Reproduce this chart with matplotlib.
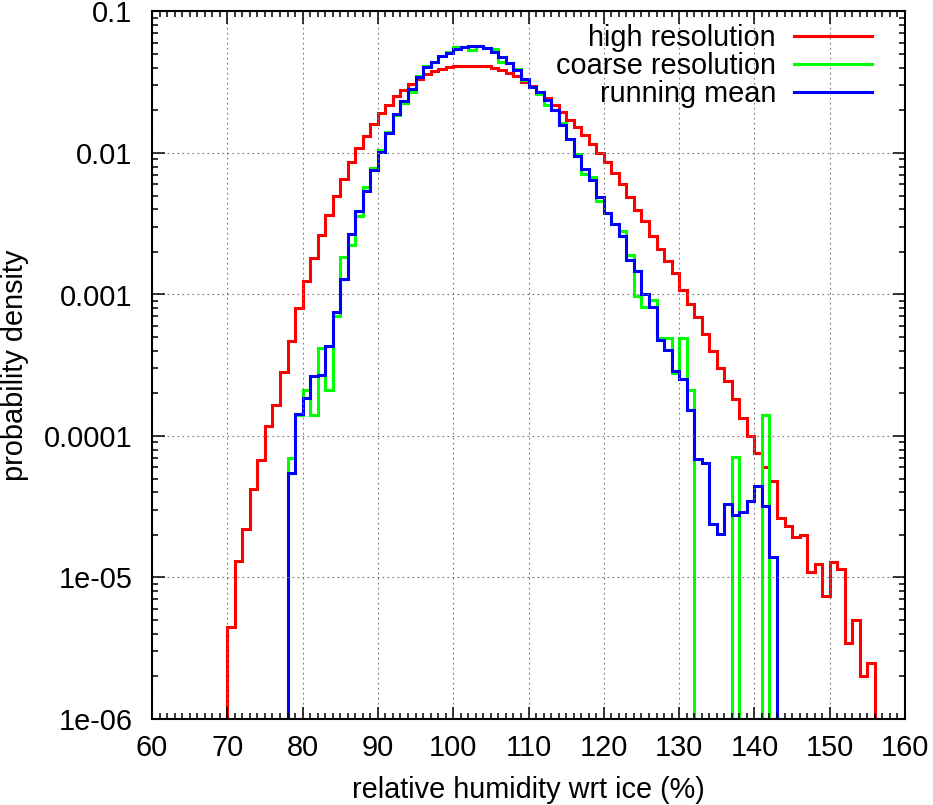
import numpy as np
import matplotlib
matplotlib.use('Agg')
import matplotlib.pyplot as plt
from matplotlib.ticker import MultipleLocator, LogLocator, NullFormatter

# probability density per 1 % bin, first bin lower edge given by *_start
hi_start = 70
high_res = [4.5e-6, 1.3e-5, 2.2e-5, 4.2e-5, 6.8e-5, 1.17e-4, 1.66e-4, 2.82e-4, 4.67e-4, 8.0e-4,
            1.24e-3, 1.82e-3, 2.64e-3, 3.66e-3, 4.93e-3, 6.55e-3, 8.57e-3, 1.09e-2, 1.32e-2, 1.61e-2,
            1.91e-2, 2.20e-2, 2.51e-2, 2.79e-2, 3.07e-2, 3.35e-2, 3.60e-2, 3.81e-2, 3.95e-2, 4.03e-2,
            4.09e-2, 4.13e-2, 4.14e-2, 4.13e-2, 4.09e-2, 3.99e-2, 3.86e-2, 3.68e-2, 3.49e-2, 3.19e-2,
            2.97e-2, 2.70e-2, 2.44e-2, 2.19e-2, 1.94e-2, 1.72e-2, 1.52e-2, 1.33e-2, 1.15e-2, 1.00e-2,
            8.6e-3, 7.2e-3, 6.0e-3, 4.9e-3, 3.95e-3, 3.3e-3, 2.61e-3, 2.08e-3, 1.72e-3, 1.42e-3,
            1.07e-3, 8.5e-4, 6.9e-4, 5.3e-4, 4.0e-4, 3.0e-4, 2.43e-4, 1.82e-4, 1.34e-4, 1.0e-4,
            7.6e-5, 6.0e-5, 4.8e-5, 2.63e-5, 2.3e-5, 1.94e-5, 2.01e-5, 1.09e-5, 1.25e-5, 7.45e-6,
            1.29e-5, 1.15e-5, 3.45e-6, 5.0e-6, 2.0e-6, 2.5e-6]

co_start = 78
coarse_res = [7.0e-5, 1.40e-4,
              2.1e-4, 1.40e-4, 4.2e-4, 2.13e-4, 7.0e-4, 1.84e-3, 2.25e-3, 3.6e-3, 5.75e-3, 7.84e-3,
              1.05e-2, 1.40e-2, 1.85e-2, 2.25e-2, 2.70e-2, 3.50e-2, 4.15e-2, 4.42e-2, 4.88e-2, 5.15e-2,
              5.58e-2, 5.58e-2, 5.35e-2, 5.72e-2, 5.55e-2, 5.45e-2, 4.40e-2, 4.35e-2, 3.95e-2, 3.30e-2,
              2.95e-2, 2.62e-2, 2.19e-2, 2.0e-2, 1.64e-2, 1.25e-2, 9.8e-3, 7.1e-3, 6.8e-3, 4.56e-3,
              3.77e-3, 3.17e-3, 2.8e-3, 1.91e-3, 9.8e-4, 8.2e-4, 9.2e-4, 4.9e-4, 4.9e-4, 2.8e-4,
              4.9e-4, 2.12e-4, 0, 0, 0, 0, 0, 7.06e-5, 0, 0,
              0, 1.41e-4]

rm_start = 78
running_mean = [5.5e-5, 1.44e-4,
                1.85e-4, 2.65e-4, 2.72e-4, 4.3e-4, 7.5e-4, 1.29e-3, 2.68e-3, 3.87e-3, 5.36e-3, 7.6e-3,
                1.01e-2, 1.39e-2, 1.90e-2, 2.34e-2, 2.83e-2, 3.42e-2, 4.03e-2, 4.42e-2, 4.88e-2, 5.10e-2,
                5.40e-2, 5.58e-2, 5.72e-2, 5.72e-2, 5.50e-2, 5.18e-2, 4.78e-2, 4.35e-2, 3.84e-2, 3.36e-2,
                2.95e-2, 2.68e-2, 2.38e-2, 2.00e-2, 1.58e-2, 1.25e-2, 9.6e-3, 7.7e-3, 6.4e-3, 4.9e-3,
                3.77e-3, 3.17e-3, 2.61e-3, 1.74e-3, 1.46e-3, 1.0e-3, 8.1e-4, 4.78e-4, 4.07e-4, 2.86e-4,
                2.54e-4, 1.52e-4, 6.9e-5, 6.4e-5, 2.37e-5, 2.04e-5, 3.31e-5, 2.78e-5, 2.9e-5, 3.45e-5,
                4.4e-5, 3.22e-5, 1.39e-5]

labels = ['high resolution', 'coarse resolution', 'running mean']
colors = ['#ff0000', '#00ff00', '#0000ff']
ytick_vals = [1e-6, 1e-5, 1e-4, 1e-3, 1e-2, 1e-1]
ytick_labels = ['1e-06', '1e-05', '0.0001', '0.001', '0.01', '0.1']

plt.rcParams['font.family'] = ['Liberation Sans', 'DejaVu Sans']
plt.rcParams['font.size'] = 20.8

fig = plt.figure(figsize=(9.33, 8.05), dpi=100)
ax = fig.add_axes([152 / 933, 1 - 719 / 805, (905 - 152) / 933, (719 - 11.5) / 805])

floor = 1e-12
series = [(hi_start, high_res), (co_start, coarse_res), (rm_start, running_mean)]
for (start, vals), lab, col in zip(series, labels, colors):
    v = np.array(vals, dtype=float)
    v = np.where(v > 0, v, floor)
    edges = np.arange(start, start + len(v) + 1)
    ax.stairs(v, edges, baseline=floor, color=col, lw=2.2, label=lab)

ax.set_yscale('log')
ax.set_xlim(60, 160)
ax.set_ylim(1e-6, 0.1)
ax.xaxis.set_major_locator(MultipleLocator(10))
ax.xaxis.set_minor_locator(MultipleLocator(1))
ax.set_yticks(ytick_vals)
ax.set_yticklabels(ytick_labels)
ax.yaxis.set_minor_locator(LogLocator(base=10, subs=np.arange(2, 10)))
ax.yaxis.set_minor_formatter(NullFormatter())

ax.tick_params(which='both', direction='in', top=True, right=True, width=1.1, color='black')
ax.tick_params(which='major', length=9, pad=14)
ax.tick_params(which='minor', length=4.5)
ax.tick_params(axis='x', which='major', pad=11)
for s in ax.spines.values():
    s.set_linewidth(1.5)

ax.grid(True, which='major', color='#777777', linestyle=(0, (1.5, 3)), linewidth=0.8)

ax.set_xlabel('relative humidity wrt ice (%)', labelpad=10)
ax.set_ylabel('probability density', labelpad=11)

ax.legend(loc='upper right', bbox_to_anchor=(1 - 33 / 753, 1 - 13 / 707.5),
          markerfirst=False, frameon=False, handlelength=2.7, handletextpad=0.62,
          labelspacing=0.0, borderaxespad=0, borderpad=0)

plt.savefig('out.png', dpi=100)
